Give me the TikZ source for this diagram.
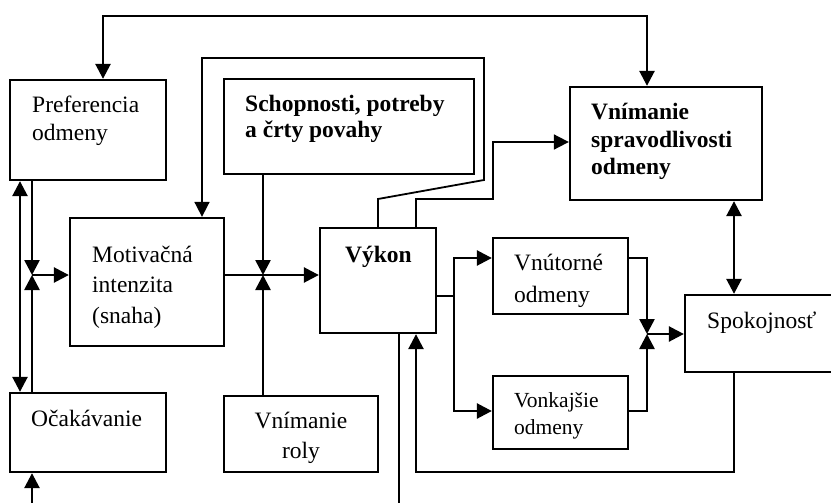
\documentclass[tikz,border=0pt]{standalone}
\usepackage{fontspec}
\setmainfont{Liberation Serif}
\usetikzlibrary{arrows.meta}
\begin{document}
\begin{tikzpicture}[x=1pt,y=-1pt,
  box/.style={draw,line width=2.3pt,inner sep=0pt},
  txt/.style={anchor=base west,inner sep=0pt,font=\fontsize{23.5}{27}\selectfont},
  btxt/.style={txt,font=\fontsize{23.5}{27}\selectfont\bfseries},
  conn/.style={line width=2.6pt},
  thinconn/.style={line width=1.8pt},
  arr/.style={conn,-{Triangle[length=15pt,width=15pt]}},
  dbl/.style={conn,{Triangle[length=15pt,width=15pt]}-{Triangle[length=15pt,width=15pt]}},
  thinarr/.style={thinconn,-{Triangle[length=15pt,width=15pt]}}]
\useasboundingbox (0,0) rectangle (831,503);
\clip (0,0) rectangle (831,503);
% boxes
\node[box,minimum width=156pt,minimum height=100pt] (pref) at (88,130) {};
\node[box,minimum width=250pt,minimum height=95pt,line width=2.6pt] (schop) at (349,126.5) {};
\node[box,minimum width=192pt,minimum height=113pt] (spr) at (666,143.5) {};
\node[box,minimum width=154pt,minimum height=128pt] (mot) at (147,282) {};
\node[box,minimum width=116pt,minimum height=105pt] (vyk) at (378,280.5) {};
\node[box,minimum width=135pt,minimum height=76pt] (vnut) at (560.5,276) {};
\node[box,minimum width=135pt,minimum height=73pt] (vonk) at (560.5,412.5) {};
\node[box,minimum width=160pt,minimum height=77pt] (spok) at (765,333.5) {};
\node[box,minimum width=156pt,minimum height=79pt] (ocak) at (88,432.5) {};
\node[box,minimum width=154pt,minimum height=76pt] (roly) at (301,434) {};
% texts
\node[txt] (tpref1) at (32,113) {Preferencia};
\node[txt] (tpref2) at (32,140) {odmeny};
\node[btxt] (tschop1) at (245,111) {Schopnosti, potreby};
\node[btxt] (tschop2) at (245,138) {a črty povahy};
\node[btxt] (tspr1) at (591,120) {Vnímanie};
\node[btxt] (tspr2) at (591,147) {spravodlivosti};
\node[btxt] (tspr3) at (591,174) {odmeny};
\node[txt] (tmot1) at (92,262) {Motivačná};
\node[txt] (tmot2) at (92,292) {intenzita};
\node[txt] (tmot3) at (92,323) {(snaha)};
\node[btxt] (tvyk) at (345,262) {Výkon};
\node[txt] (tvnut1) at (514,270) {Vnútorné};
\node[txt] (tvnut2) at (514,302) {odmeny};
\node[txt,font=\fontsize{21.5}{25}\selectfont] (tvonk1) at (514,407) {Vonkajšie};
\node[txt,font=\fontsize{21.5}{25}\selectfont] (tvonk2) at (514,434) {odmeny};
\node[txt] (tspok) at (707,328) {Spokojnosť};
\node[txt] (tocak) at (31,426) {Očakávanie};
\node[txt,anchor=base] (troly1) at (301,428) {Vnímanie};
\node[txt,anchor=base] (troly2) at (301,458) {roly};
% coordinates
\coordinate (t1) at (103,16);
\coordinate (t2) at (647,16);
\coordinate (j1) at (32,275);
\coordinate (j2) at (263,275);
\coordinate (j3) at (647,334);
\coordinate (b1) at (454,296);
\coordinate (v1) at (454,258);
\coordinate (v2) at (454,411);
\coordinate (bot1) at (32,503);
\coordinate (bot2) at (399,503);
% top loop
\draw[dbl] (pref.north -| t1) -- (t1) -- (t2) -- (spr.north -| t2);
% Vykon -> Motivacna
\draw[thinarr] (vyk.north -| 378,0) -- (378,199) -- (484,180) -- (484,58) -- (202,58) -- (mot.north -| 202,0);
% Vykon -> spravodlivost
\draw[thinarr] (vyk.north -| 416,0) -- (416,199) -- (493,199) -- (493,142) -- (spr.west |- 0,142);
% left side
\draw[dbl] (pref.south -| 20,0) -- (ocak.north -| 20,0);
\draw[arr] (pref.south -| j1) -- (j1);
\draw[arr] (ocak.north -| j1) -- (j1);
\draw[arr] (j1) -- (mot.west |- j1);
\draw[arr] (bot1) -- (ocak.south -| bot1);
% middle junction
\draw[arr] (schop.south -| j2) -- (j2);
\draw[arr] (roly.north -| j2) -- (j2);
\draw[arr] (mot.east |- j2) -- (vyk.west |- j2);
% rewards
\draw[thinconn] (vyk.east |- b1) -- (b1);
\draw[arr] (b1) -- (v1) -- (vnut.west |- v1);
\draw[arr] (b1) -- (v2) -- (vonk.west |- v2);
\draw[arr] (vnut.east |- v1) -- (v1 -| j3) -- (j3);
\draw[arr] (vonk.east |- v2) -- (v2 -| j3) -- (j3);
\draw[arr] (j3) -- (spok.west |- j3);
% satisfaction
\draw[dbl] (spr.south -| 734,0) -- (spok.north -| 734,0);
\draw[arr] (spok.south -| 734,0) -- (734,472) -- (416,472) -- (vyk.south -| 416,0);
\draw[thinconn] (vyk.south -| bot2) -- (bot2);
\end{tikzpicture}
\end{document}
